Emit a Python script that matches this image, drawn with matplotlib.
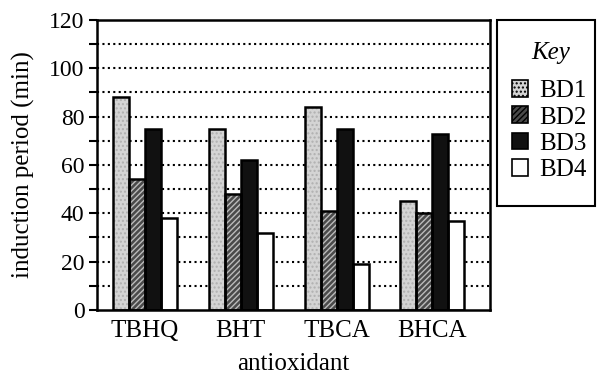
import matplotlib.pyplot as plt
from matplotlib.patches import Patch, Rectangle
import numpy as np

plt.rcParams['font.family'] = ['Liberation Serif', 'DejaVu Serif']
plt.rcParams['hatch.linewidth'] = 1.0

antioxidants = ['TBHQ', 'BHT', 'TBCA', 'BHCA']
series = ['BD1', 'BD2', 'BD3', 'BD4']
bd1 = [88, 75, 84, 45]
bd2 = [54, 48, 41, 40]
bd3 = [75, 62, 75, 73]
bd4 = [38, 32, 19, 37]
values = [bd1, bd2, bd3, bd4]

faces = ['#d4d4d4', '#4a4a4a', '#111111', 'white']
hatches = ['....', '//////', None, None]
hatch_cols = ['#b0b0b0', '#bbbbbb', None, None]

fig = plt.figure(figsize=(5.97, 3.77), dpi=100)
ax = fig.add_axes([0.1625, 0.178, 0.658, 0.769])

x = np.arange(len(antioxidants))
w = 0.167
for i in range(4):
    pos = x + (i - 1.5) * w
    if hatches[i]:
        ax.bar(pos, values[i], w, color=faces[i], edgecolor=hatch_cols[i],
               hatch=hatches[i], linewidth=0, zorder=2)
    else:
        ax.bar(pos, values[i], w, color=faces[i], linewidth=0, zorder=2)
    ax.bar(pos, values[i], w, fill=False, edgecolor='black', linewidth=1.8, zorder=3)

ax.set_xlim(-0.5, 3.6)
ax.set_ylim(0, 120)
ax.set_yticks(range(0, 121, 20))
ax.set_yticks(range(10, 120, 20), minor=True)
for g in range(10, 120, 10):
    ax.axhline(g, color='black', linestyle=(0, (1, 1.6)), linewidth=1.5, zorder=1)
ax.set_xticks(x)
ax.set_xticklabels(antioxidants)
ax.tick_params(axis='x', length=0, labelsize=18, pad=7)
ax.tick_params(axis='y', which='both', direction='out', length=6, width=1.5, labelsize=17, pad=3)
for s in ax.spines.values():
    s.set_linewidth(1.8)

ax.set_ylabel('induction period (min)', fontsize=18, labelpad=10)
ax.set_xlabel('antioxidant', fontsize=18, labelpad=8)

# key box drawn by hand so it can match the original size
fig.add_artist(Rectangle((497 / 597, 1 - 206 / 377), 98 / 597, 186 / 377,
                         transform=fig.transFigure, fill=False,
                         edgecolor='black', linewidth=1.5))
fig.text(551 / 597, 1 - 53 / 377, 'Key', fontsize=18, fontstyle='italic',
         ha='center', va='center')

handles = []
for i in range(4):
    handles.append(Patch(facecolor=faces[i], edgecolor='black', hatch=hatches[i], linewidth=1.2))
leg = fig.legend(handles, series, loc='upper left', bbox_to_anchor=(512 / 597, 1 - 80 / 377),
                 fontsize=18, frameon=False, handlelength=0.65, handleheight=0.65,
                 handletextpad=0.45, borderpad=0, labelspacing=0.17,
                 borderaxespad=0)

fig.savefig('out.png', dpi=100)
